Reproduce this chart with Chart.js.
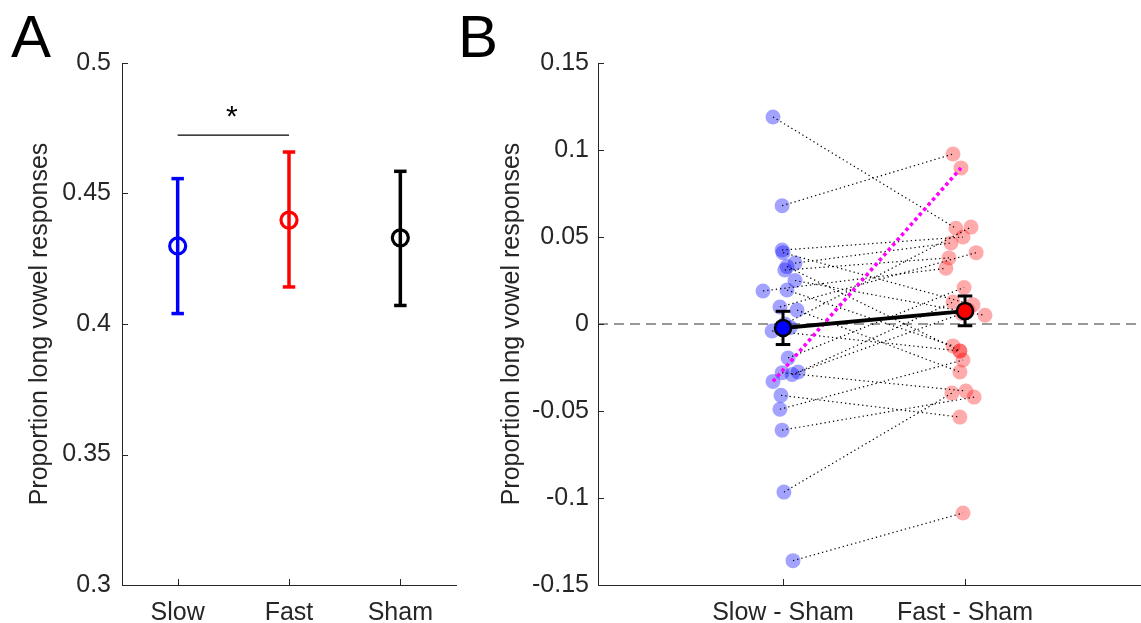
<!DOCTYPE html>
<html><head><meta charset="utf-8">
<script src="https://cdn.jsdelivr.net/npm/chart.js@4"></script>
<style>
html,body{margin:0;padding:0;background:#fff;width:1141px;height:623px;overflow:hidden;}
#ca{position:absolute;left:0;top:0;}
#cb{position:absolute;left:470px;top:0;}
.lbl{position:absolute;font-family:"Liberation Sans",Arial,Helvetica,sans-serif;color:#000;line-height:1;white-space:nowrap;}
</style></head><body>
<canvas id="ca" width="470" height="623"></canvas>
<canvas id="cb" width="671" height="623"></canvas>
<div class="lbl" style="left:11px;top:7px;font-size:60px;">A</div>
<div class="lbl" style="left:458px;top:7px;font-size:60px;">B</div>
<div class="lbl" style="left:226px;top:101px;font-size:30px;">*</div>
<script>
// ---------- Panel A data ----------
const catsA = ['Slow', 'Fast', 'Sham'];
const meanA = [0.4299, 0.4398, 0.4330];
const upperA = [0.4557, 0.4659, 0.4585];
const lowerA = [0.4040, 0.4142, 0.4071];
const colorsA = ['#0000ff', '#ff0000', '#000000'];
const sigPair = [1, 2];
const sigY = 0.4724;
const ticksA = [0.3, 0.35, 0.4, 0.45, 0.5];
const tickLabelsA = ['0.3', '0.35', '0.4', '0.45', '0.5'];

// ---------- Panel B data ----------
const catsB = ['Slow - Sham', 'Fast - Sham'];
const slowDiff = [0.119, 0.068, 0.0425, 0.041, 0.035, 0.033, 0.031, 0.025, 0.019, 0.0195, 0.0098, 0.008, 0.000, -0.002, -0.004, -0.0195, -0.028, -0.0276, -0.029, -0.033, -0.041, -0.049, -0.061, -0.0966, -0.136];
const fastDiff = [0.055, 0.0977, 0.050, 0.011, 0.0466, -0.0155, 0.038, 0.005, 0.032, -0.0126, 0.041, -0.0276, 0.0557, 0.008, -0.0155, 0.021, -0.0385, 0.0126, 0.006, 0.0897, -0.0535, -0.0207, -0.042, -0.0397, -0.1086];
const slowJit = [-0.055, -0.005, -0.005, 0.0, 0.066, 0.022, 0.01, 0.066, -0.11, 0.022, -0.017, 0.077, 0.01, 0.04, -0.06, 0.028, -0.005, 0.083, 0.05, -0.055, -0.011, -0.017, -0.005, 0.005, 0.055];
const fastJit = [-0.05, -0.066, -0.011, 0.044, -0.077, -0.028, -0.088, 0.11, -0.105, -0.066, 0.061, -0.028, 0.033, 0.017, -0.028, -0.005, 0.005, -0.066, -0.017, -0.022, -0.028, -0.011, 0.05, -0.072, -0.011];
const highlightIdx = 19;
const meanB = [-0.0023, 0.0074];
const upperB = [0.0073, 0.0161];
const lowerB = [-0.0118, -0.0010];
const ticksB = [-0.15, -0.1, -0.05, 0, 0.05, 0.1, 0.15];
const tickLabelsB = ['-0.15', '-0.1', '-0.05', '0', '0.05', '0.1', '0.15'];

const FONT = '"Liberation Sans", Arial, Helvetica, sans-serif';
Chart.defaults.font.family = FONT;
Chart.defaults.color = '#262626';
const AXC = '#262626';
const FS = 25;

const inwardTicks = {
  id: 'inwardTicks',
  afterDraw(chart) {
    const ctx = chart.ctx, a = chart.chartArea;
    const xs = chart.scales.x, ys = chart.scales.y;
    ctx.save();
    ctx.strokeStyle = AXC; ctx.lineWidth = 1;
    ctx.beginPath();
    xs.ticks.forEach(t => { const px = Math.round(xs.getPixelForValue(t.value)) + 0.5; ctx.moveTo(px, a.bottom); ctx.lineTo(px, a.bottom - 6); });
    ys.ticks.forEach(t => { const py = Math.round(ys.getPixelForValue(t.value)) + 0.5; ctx.moveTo(a.left, py); ctx.lineTo(a.left + 6, py); });
    ctx.stroke();
    ctx.restore();
  }
};

function line(data, color, width, dash, order) {
  return { data, showLine: true, borderColor: color, borderWidth: width, borderDash: dash || [],
    pointRadius: 0, pointHoverRadius: 0, fill: false, tension: 0, order: order || 0, borderCapStyle: 'butt' };
}

function xScale(min, max, tickVals, labels) {
  return {
    type: 'linear', min, max,
    afterBuildTicks: s => { s.ticks = tickVals.map(v => ({ value: v })); },
    afterFit: s => { s.height = 38; s.paddingLeft = 0; s.paddingRight = 0; },
    ticks: { callback: (v, i) => labels[i], font: { size: FS }, color: AXC, padding: 13, maxRotation: 0, autoSkip: false },
    grid: { drawOnChartArea: false, drawTicks: false },
    border: { display: true, color: AXC, width: 1 }
  };
}
function yScale(min, max, tickVals, labels, width, pad, titlePad) {
  return {
    type: 'linear', min, max,
    afterBuildTicks: s => { s.ticks = tickVals.map(v => ({ value: v })); },
    afterFit: s => { s.width = width; },
    ticks: { callback: (v, i) => labels[i], font: { size: FS }, color: AXC, padding: pad, autoSkip: false },
    title: { display: true, text: 'Proportion long vowel responses', font: { size: FS }, color: AXC, padding: { top: titlePad, bottom: 0 } },
    grid: { drawOnChartArea: false, drawTicks: false },
    border: { display: true, color: AXC, width: 1 }
  };
}

const common = {
  responsive: false, animation: false,
  plugins: { legend: { display: false }, tooltip: { enabled: false } },
  events: []
};

// ---------- Panel A ----------
const capA = 0.056;
const dsA = [];
dsA.push(line([{ x: sigPair[0], y: sigY }, { x: sigPair[1], y: sigY }], '#000', 1.3, [], 10));
catsA.forEach((c, i) => {
  const x = i + 1;
  dsA.push(line([{ x, y: lowerA[i] }, { x, y: upperA[i] }], colorsA[i], 3.5, [], 5));
  dsA.push(line([{ x: x - capA, y: upperA[i] }, { x: x + capA, y: upperA[i] }], colorsA[i], 3.5, [], 5));
  dsA.push(line([{ x: x - capA, y: lowerA[i] }, { x: x + capA, y: lowerA[i] }], colorsA[i], 3.5, [], 5));
});
dsA.push({ data: meanA.map((m, i) => ({ x: i + 1, y: m })), showLine: false, pointRadius: 8, pointBorderWidth: 3.2,
  pointBackgroundColor: 'rgba(0,0,0,0)', pointBorderColor: colorsA, order: 1 });

new Chart(document.getElementById('ca'), {
  type: 'scatter',
  data: { datasets: dsA },
  options: Object.assign({}, common, {
    layout: { autoPadding: false, padding: { top: 63, right: 14, left: 0, bottom: 0 } },
    scales: { x: xScale(0.5, 3.5, [1, 2, 3], catsA), y: yScale(0.3, 0.5, ticksA, tickLabelsA, 122, 11, 25) }
  }),
  plugins: [inwardTicks]
});

// ---------- Panel B ----------
const capB = 0.04;
const dsB = [];
dsB.push(line([{ x: -0.0165, y: 0 }, { x: 2.967, y: 0 }], '#333', 1.2, [10, 6], 100));
dsB.push({ data: slowDiff.map((v, i) => ({ x: 1 + slowJit[i], y: v })), showLine: false, pointRadius: 7.5, pointBorderWidth: 0,
  pointBackgroundColor: 'rgba(0,0,255,0.36)', order: 90 });
dsB.push({ data: fastDiff.map((v, i) => ({ x: 2 + fastJit[i], y: v })), showLine: false, pointRadius: 7.5, pointBorderWidth: 0,
  pointBackgroundColor: 'rgba(255,0,0,0.33)', order: 90 });
slowDiff.forEach((v, i) => {
  if (i === highlightIdx) return;
  dsB.push(line([{ x: 1 + slowJit[i], y: v }, { x: 2 + fastJit[i], y: fastDiff[i] }], '#000', 1.2, [1.3, 3], 80));
});
dsB.push(line([{ x: 1 + slowJit[highlightIdx], y: slowDiff[highlightIdx] }, { x: 2 + fastJit[highlightIdx], y: fastDiff[highlightIdx] }], '#ff00ff', 3.6, [3.5, 3.2], 70));
dsB.push(line(meanB.map((m, i) => ({ x: i + 1, y: m })), '#000', 4, [], 60));
catsB.forEach((c, i) => {
  const x = i + 1;
  dsB.push(line([{ x, y: lowerB[i] }, { x, y: upperB[i] }], '#000', 3, [], 50));
  dsB.push(line([{ x: x - capB, y: upperB[i] }, { x: x + capB, y: upperB[i] }], '#000', 3, [], 50));
  dsB.push(line([{ x: x - capB, y: lowerB[i] }, { x: x + capB, y: lowerB[i] }], '#000', 3, [], 50));
});
dsB.push({ data: meanB.map((m, i) => ({ x: i + 1, y: m })), showLine: false, pointRadius: 8, pointBorderWidth: 2.5,
  pointBackgroundColor: ['#0000ff', '#ff0000'], pointBorderColor: '#000', order: 40 });

new Chart(document.getElementById('cb'), {
  type: 'scatter',
  data: { datasets: dsB },
  options: Object.assign({}, common, {
    layout: { autoPadding: false, padding: { top: 63, right: 0, left: 0, bottom: 0 } },
    scales: { x: xScale(-0.0165, 2.967, [1, 2], catsB), y: yScale(-0.15, 0.15, ticksB, tickLabelsB, 128, 9, 27) }
  }),
  plugins: [inwardTicks]
});
</script>
</body></html>
